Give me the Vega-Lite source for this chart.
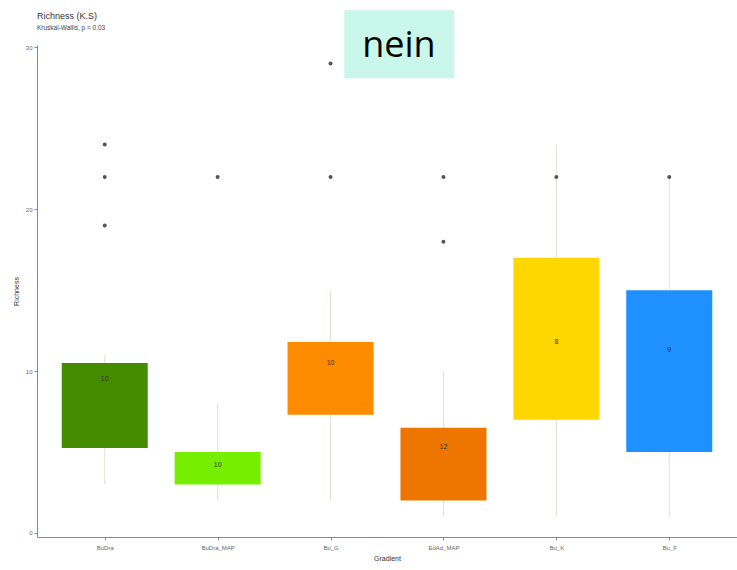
{
  "$schema": "https://vega.github.io/schema/vega-lite/v6.json",
  "width": 700,
  "height": 492,
  "autosize": {"type": "none"},
  "padding": {"left": 37, "top": 45, "right": 0, "bottom": 33},
  "background": "white",
  "title": {
    "text": "Richness (K.S)",
    "subtitle": "Kruskal-Wallis, p = 0.03",
    "anchor": "start",
    "frame": "group",
    "font": "Liberation Sans",
    "fontSize": 9,
    "fontWeight": "normal",
    "color": "#333333",
    "subtitleFont": "Liberation Sans",
    "subtitleFontSize": 6.5,
    "subtitleColor": "#444444",
    "subtitlePadding": 4,
    "offset": -21
  },
  "config": {
    "view": {"stroke": null},
    "axis": {
      "labelFont": "Liberation Sans",
      "titleFont": "Liberation Sans",
      "labelFontSize": 6,
      "titleFontSize": 7,
      "labelColor": "#666666",
      "titleColor": "#333333",
      "titleFontWeight": "normal",
      "domainColor": "#888888",
      "tickColor": "#888888",
      "tickSize": 3,
      "grid": false
    }
  },
  "datasets": {
    "boxes": [
      {"group": "BuDra", "lo": 3, "q1": 5.25, "q3": 10.5, "hi": 11, "laby": 9.5, "lab": "10"},
      {"group": "BuDra_MAP", "lo": 2, "q1": 3, "q3": 5, "hi": 8, "laby": 4.2, "lab": "10"},
      {"group": "Bu_G", "lo": 2, "q1": 7.3, "q3": 11.8, "hi": 15, "laby": 10.5, "lab": "10"},
      {"group": "EdAd_MAP", "lo": 1, "q1": 2, "q3": 6.5, "hi": 10, "laby": 5.3, "lab": "12"},
      {"group": "Bu_K", "lo": 1, "q1": 7, "q3": 17, "hi": 24, "laby": 11.8, "lab": "8"},
      {"group": "Bu_F", "lo": 1, "q1": 5, "q3": 15, "hi": 22, "laby": 11.3, "lab": "9"}
    ],
    "outliers": [
      {"group": "BuDra", "value": 24},
      {"group": "BuDra", "value": 22},
      {"group": "BuDra", "value": 19},
      {"group": "BuDra_MAP", "value": 22},
      {"group": "Bu_G", "value": 29},
      {"group": "Bu_G", "value": 22},
      {"group": "EdAd_MAP", "value": 22},
      {"group": "EdAd_MAP", "value": 18},
      {"group": "Bu_K", "value": 22},
      {"group": "Bu_F", "value": 22}
    ],
    "note": [
      {"x1": 0.439, "x2": 0.596, "y1": 28.1, "y2": 32.3, "xm": 0.517, "ym": 29.41, "txt": "nein"}
    ]
  },
  "layer": [
    {
      "encoding": {
        "x": {
          "field": "group",
          "type": "nominal",
          "sort": null,
          "scale": {"type": "point", "padding": 0.6},
          "axis": {"title": "Gradient", "labelAngle": 0, "labelPadding": 4, "titlePadding": 4}
        }
      },
      "layer": [
        {
          "data": {"name": "boxes"},
          "mark": {"type": "rule", "color": "#dcd8c6", "strokeWidth": 0.8},
          "encoding": {
            "y": {
              "field": "lo",
              "type": "quantitative",
              "scale": {"domain": [-0.25, 30.15], "nice": false, "zero": false},
              "axis": {"title": "Richness", "values": [0, 10, 20, 30], "titlePadding": 6}
            },
            "y2": {"field": "hi"}
          }
        },
        {
          "data": {"name": "boxes"},
          "mark": {"type": "bar", "size": 86},
          "encoding": {
            "y": {"field": "q1", "type": "quantitative"},
            "y2": {"field": "q3"},
            "color": {
              "field": "group",
              "type": "nominal",
              "scale": {
                "domain": ["BuDra", "BuDra_MAP", "Bu_G", "EdAd_MAP", "Bu_K", "Bu_F"],
                "range": ["#458B00", "#76EE00", "#FF8C00", "#EE7600", "#FFD700", "#1E90FF"]
              },
              "legend": null
            }
          }
        },
        {
          "data": {"name": "outliers"},
          "mark": {"type": "point", "filled": true, "color": "#555555", "size": 16, "opacity": 1},
          "encoding": {
            "y": {"field": "value", "type": "quantitative"}
          }
        },
        {
          "data": {"name": "boxes"},
          "mark": {"type": "text", "font": "Liberation Sans", "fontSize": 7, "color": "#333333"},
          "encoding": {
            "y": {"field": "laby", "type": "quantitative"},
            "text": {"field": "lab"}
          }
        }
      ]
    },
    {
      "data": {"name": "note"},
      "layer": [
        {
          "mark": {"type": "rect", "color": "#c9f7ea"},
          "encoding": {
            "x": {"field": "x1", "type": "quantitative", "scale": {"domain": [0, 1]}, "axis": null},
            "x2": {"field": "x2"},
            "y": {"field": "y1", "type": "quantitative", "scale": {"domain": [-0.25, 30.15], "nice": false, "zero": false}, "axis": null},
            "y2": {"field": "y2"}
          }
        },
        {
          "mark": {"type": "text", "font": "Open Sans", "fontSize": 36, "color": "#000000", "baseline": "alphabetic", "align": "center"},
          "encoding": {
            "x": {"field": "xm", "type": "quantitative", "scale": {"domain": [0, 1]}, "axis": null},
            "y": {"field": "ym", "type": "quantitative", "scale": {"domain": [-0.25, 30.15], "nice": false, "zero": false}, "axis": null},
            "text": {"field": "txt"}
          }
        }
      ]
    }
  ],
  "resolve": {"scale": {"x": "independent", "y": "independent"}}
}
